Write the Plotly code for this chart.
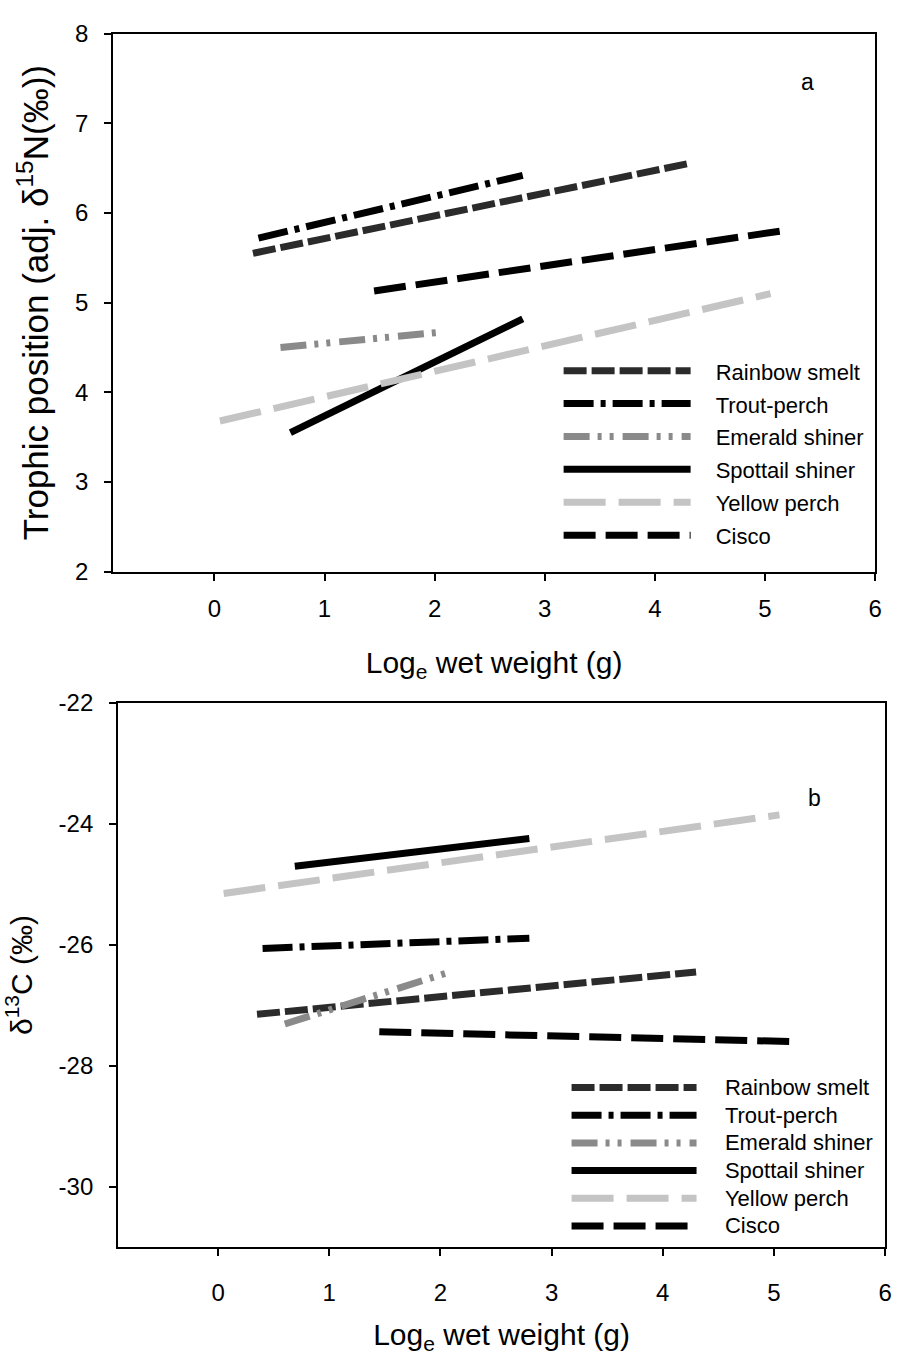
import plotly.graph_objects as go

# ---- data ----
species = ["Rainbow smelt", "Trout-perch", "Emerald shiner", "Spottail shiner", "Yellow perch", "Cisco"]
x_start = [0.35, 0.40, 0.60, 0.69, 0.05, 1.45]
x_end = [4.30, 2.80, 2.05, 2.80, 5.05, 5.15]
tp_start = [5.55, 5.72, 4.50, 3.55, 3.68, 5.13]
tp_end = [6.55, 6.42, 4.67, 4.82, 5.10, 5.80]
c13_start = [-27.15, -26.06, -27.31, -24.70, -25.15, -27.44]
c13_end = [-26.45, -25.89, -26.47, -24.24, -23.85, -27.60]

x_ticks = [0, 1, 2, 3, 4, 5, 6]
tp_ticks = [2, 3, 4, 5, 6, 7, 8]
c13_ticks = [-30, -28, -26, -24, -22]
c13_tick_labels = ["-30", "-28", "-26", "-24", "-22"]
panel_labels = ["a", "b"]

# ---- styles ----
colors = ["#2b2b2b", "#000000", "#8a8a8a", "#000000", "#c4c4c4", "#000000"]
dashes = ["23px,5px", "30px,7px,5px,7px", "26px,8px,4px,8px,4px,9px", "solid", "42px,13px", "32px,10px"]
FONT = "Liberation Sans, Arial, sans-serif"


def legend_name(name, pad_px):
    return ("<span style='font-size:%dpx'>&nbsp;&nbsp;&nbsp;&nbsp;</span>"
            "<span style='font-size:22px'>%s</span>") % (pad_px, name)


fig = go.Figure()
for i, name in enumerate(species):
    line = dict(color=colors[i], width=7, dash=dashes[i])
    fig.add_trace(go.Scatter(
        x=[x_start[i], x_end[i]], y=[tp_start[i], tp_end[i]], mode="lines",
        line=line, name=legend_name(name, 18),
        xaxis="x", yaxis="y", legend="legend"))
for i, name in enumerate(species):
    line = dict(color=colors[i], width=7, dash=dashes[i])
    fig.add_trace(go.Scatter(
        x=[x_start[i], x_end[i]], y=[c13_start[i], c13_end[i]], mode="lines",
        line=line, name=legend_name(name, 21),
        xaxis="x2", yaxis="y2", legend="legend2"))

W, H = 899, 1360
axis_common = dict(showline=True, linecolor="black", linewidth=2, mirror=True,
                   ticks="outside", ticklen=7, tickwidth=2, tickcolor="black",
                   showgrid=False, zeroline=False,
                   tickfont=dict(family=FONT, size=24, color="black"))

fig.update_layout(
    width=W, height=H, margin=dict(l=0, r=0, t=0, b=0),
    paper_bgcolor="white", plot_bgcolor="white",
    font=dict(family=FONT, color="black"),
    xaxis=dict(domain=[114 / W, 882 / W], range=[-0.92, 6], tickvals=x_ticks,
               anchor="y", ticklabelstandoff=7,
               title=dict(text="Log<sub>e</sub> wet weight (g)", standoff=31,
                          font=dict(family=FONT, size=30)), **axis_common),
    yaxis=dict(domain=[1 - 569 / H, 1 - 20 / H], range=[2, 8], tickvals=tp_ticks,
               anchor="x", ticklabelstandoff=11,
               title=dict(text="Trophic position (adj. δ<sup>15</sup>N(‰))", standoff=16,
                          font=dict(family=FONT, size=35)), **axis_common),
    xaxis2=dict(domain=[119 / W, 892 / W], range=[-0.9, 6], tickvals=x_ticks,
                anchor="y2", ticklabelstandoff=16,
                title=dict(text="Log<sub>e</sub> wet weight (g)", standoff=19,
                           font=dict(family=FONT, size=30)), **axis_common),
    yaxis2=dict(domain=[1 - 1258 / H, 1 - 703 / H], range=[-31, -22], tickvals=c13_ticks,
                ticktext=c13_tick_labels, anchor="x2", ticklabelstandoff=11,
                title=dict(text="δ<sup>13</sup>C (‰)", standoff=18,
                           font=dict(family=FONT, size=30)), **axis_common),
    legend=dict(x=563 / W, y=1 - 342 / H, xanchor="left", yanchor="top",
                bgcolor="rgba(0,0,0,0)", itemwidth=127, font=dict(size=23),
                tracegroupgap=0),
    legend2=dict(x=571 / W, y=1 - 1076 / H, xanchor="left", yanchor="top",
                 bgcolor="rgba(0,0,0,0)", itemwidth=125, font=dict(size=19),
                 tracegroupgap=0),
    showlegend=True,
    annotations=[
        dict(text=panel_labels[0], x=814 / W, y=1 - 69 / H, xref="paper", yref="paper",
             xanchor="center", yanchor="middle",
             showarrow=False, font=dict(family=FONT, size=23)),
        dict(text=panel_labels[1], x=821 / W, y=1 - 800 / H, xref="paper", yref="paper",
             xanchor="center", yanchor="middle",
             showarrow=False, font=dict(family=FONT, size=23)),
    ],
)

fig.write_html("out.html", config={"displayModeBar": False},
               post_script="document.body.style.margin='0';")
